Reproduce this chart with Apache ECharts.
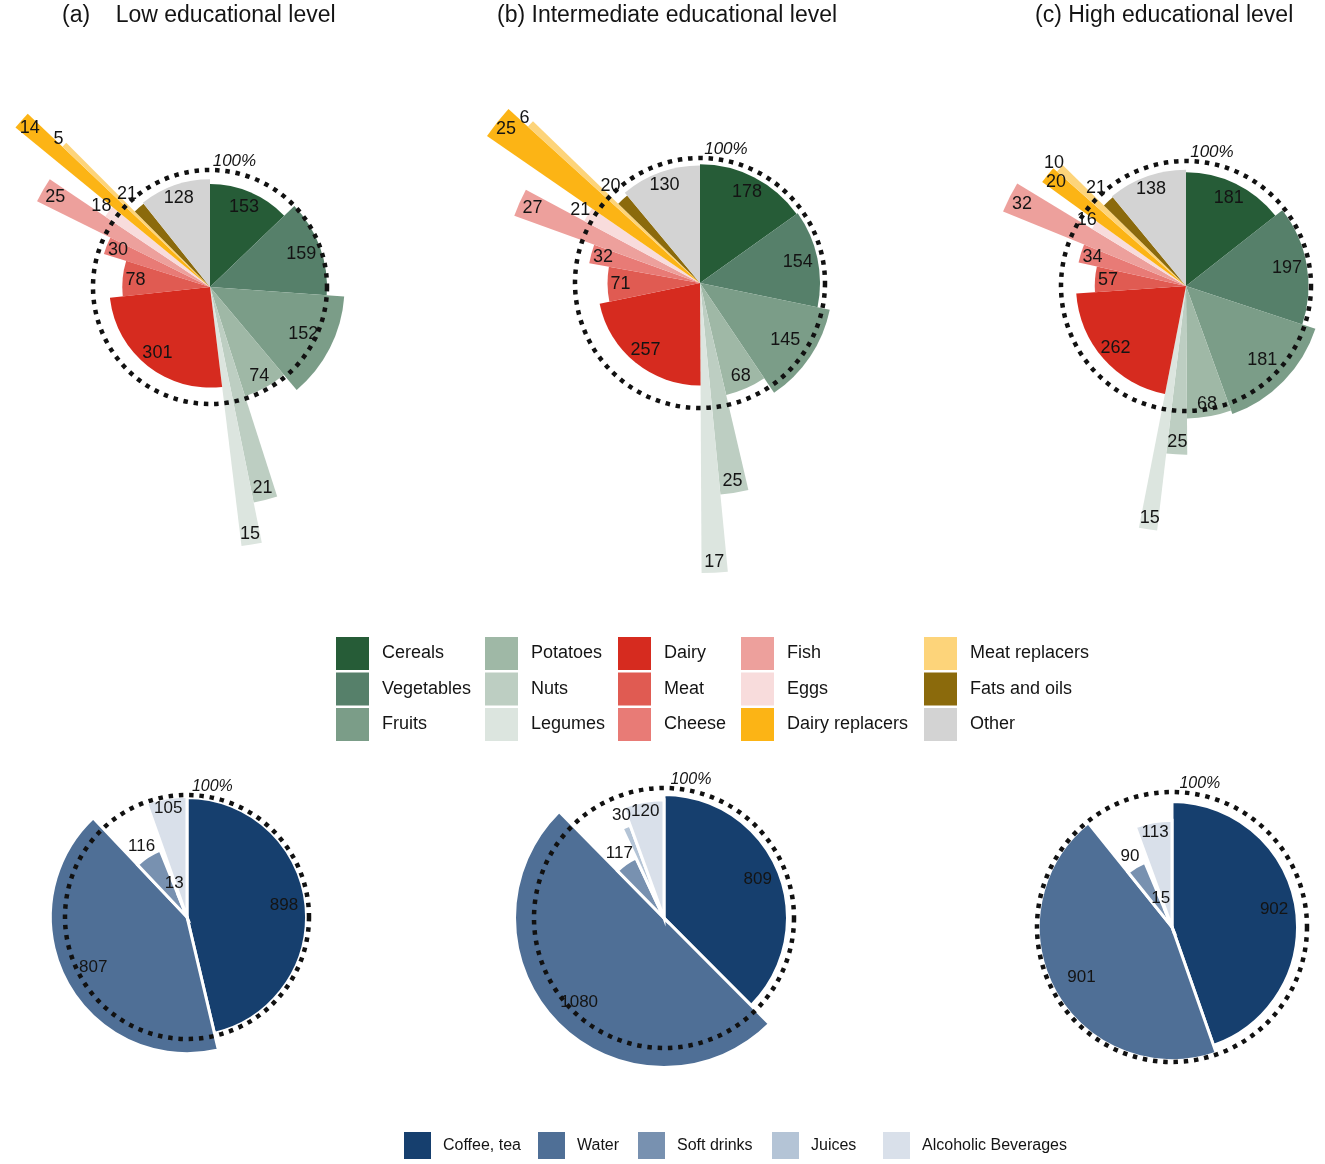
<!DOCTYPE html>
<html>
<head>
<meta charset="utf-8">
<script src="https://cdn.jsdelivr.net/npm/echarts@6/dist/echarts.min.js"></script>
<style>
  html, body { margin: 0; padding: 0; background: #ffffff; }
  #chart { width: 1325px; height: 1164px; }
</style>
</head>
<body>
<div id="chart"></div>
<script>
// ---------------- DATA ----------------
const panelTitles = ['(a)    Low educational level', '(b) Intermediate educational level', '(c) High educational level'];

const foodCategories = ['Cereals', 'Vegetables', 'Fruits', 'Potatoes', 'Nuts', 'Legumes', 'Dairy', 'Meat', 'Cheese',
  'Fish', 'Eggs', 'Dairy replacers', 'Meat replacers', 'Fats and oils', 'Other'];

// intake (g/day) -> slice angle
const foodLow  = [153, 159, 152, 74, 21, 15, 301, 78, 30, 25, 18, 14, 5, 21, 128];
const foodMid  = [178, 154, 145, 68, 25, 17, 257, 71, 32, 27, 21, 25, 6, 20, 130];
const foodHigh = [181, 197, 181, 68, 25, 15, 262, 57, 34, 32, 16, 20, 10, 21, 138];

// slice radius, % of the 100% reference circle
const foodLowPct  = [88, 100, 115, 98, 188, 223, 86, 75, 95, 165, 108, 215, 174, 91, 92];
const foodMidPct  = [95, 96, 106, 92, 170, 232, 82, 74, 90, 158, 105, 207, 186, 91, 94];
const foodHighPct = [91, 98, 109, 106, 135, 197, 88, 73, 88, 158, 88, 142, 138, 92, 93];

const drinkCategories = ['Coffee, tea', 'Water', 'Soft drinks', 'Juices', 'Alcoholic Beverages'];
const drinkLow  = [898, 807, 116, 13, 105];
const drinkMid  = [809, 1080, 117, 30, 120];
const drinkHigh = [902, 901, 90, 15, 113];

const drinkLowPct  = [98, 112, 59, 20, 99];
const drinkMidPct  = [95, 115, 51, 76, 91];
const drinkHighPct = [93, 99, 52, 14, 79];

const referenceLabel = '100%';
const referenceValue = 100;

// ---------------- STYLE / LAYOUT ----------------
const FONT = '"Liberation Sans", Arial, Helvetica, sans-serif';
const TEXT = '#141414';
const foodColors = ['#265c37', '#56806a', '#7b9d88', '#9fb8a6', '#bdcec2', '#dce5df', '#d62b1f', '#e05b52',
  '#e87b76', '#eda09c', '#f8dcdc', '#fcb415', '#fdd47a', '#8b6a0c', '#d3d3d3'];
const drinkColors = ['#163f6e', '#4f6f96', '#7891b0', '#b4c4d6', '#d9e0ea'];

// radial label offset from slice tip (px)
const foodLabelShift = [-16, -20, -30, -13, -12, -11, -16, -13, -12, -14, 9, -11, 8, 18, -13];
const drinkLabelShift = [-22, -30, 12, 12, -10];

const RMAX = 300;          // radius axis max (%)
const REF_ANGLE_DEG = 11;  // where "100%" text sits

const panels = [
  { cats: foodCategories, values: foodLow,  pct: foodLowPct,  colors: foodColors, shift: foodLabelShift, center: [210, 287], r100: 117, border: 0, fs: 18, refFs: 17 },
  { cats: foodCategories, values: foodMid,  pct: foodMidPct,  colors: foodColors, shift: foodLabelShift, center: [700, 283], r100: 125, border: 0, fs: 18, refFs: 17 },
  { cats: foodCategories, values: foodHigh, pct: foodHighPct, colors: foodColors, shift: foodLabelShift, center: [1186, 286], r100: 125, border: 0, fs: 18, refFs: 17 },
  { cats: drinkCategories, values: drinkLow,  pct: drinkLowPct,  colors: drinkColors, shift: drinkLabelShift, center: [187, 917], r100: 122, border: 3, fs: 17, refFs: 16 },
  { cats: drinkCategories, values: drinkMid,  pct: drinkMidPct,  colors: drinkColors, shift: drinkLabelShift, center: [664, 918], r100: 130, border: 3, fs: 17, refFs: 16 },
  { cats: drinkCategories, values: drinkHigh, pct: drinkHighPct, colors: drinkColors, shift: drinkLabelShift, center: [1172, 927], r100: 135, border: 3, fs: 17, refFs: 16 }
];

function geom(params, api, r, a0, a1) {
  const cs = params.coordSys;
  const cx = cs.cx, cy = cs.cy;
  const p0 = api.coord([r, a0]);
  const p1 = api.coord([r, a1]);
  const rad = Math.hypot(p0[0] - cx, p0[1] - cy);
  const s = Math.atan2(p0[1] - cy, p0[0] - cx);
  let e = Math.atan2(p1[1] - cy, p1[0] - cx);
  while (e <= s) e += Math.PI * 2;
  return { cx, cy, rad, s, e };
}

function sliceRenderer(p) {
  return function (params, api) {
    const g = geom(params, api, api.value(0), api.value(1), api.value(2));
    return {
      type: 'sector',
      shape: { cx: g.cx, cy: g.cy, r0: 0, r: g.rad, startAngle: g.s, endAngle: g.e, clockwise: true },
      style: { fill: api.visual('color'), stroke: p.border ? '#ffffff' : null, lineWidth: p.border }
    };
  };
}

function labelRenderer(p) {
  return function (params, api) {
    const g = geom(params, api, api.value(0), api.value(1), api.value(2));
    const k = api.value(4);
    const m = (g.s + g.e) / 2;
    const lr = g.rad + p.shift[k];
    return {
      type: 'text',
      x: g.cx + lr * Math.cos(m),
      y: g.cy + lr * Math.sin(m),
      style: { text: String(api.value(3)), fill: TEXT, fontSize: p.fs, fontFamily: FONT, align: 'center', verticalAlign: 'middle' }
    };
  };
}

function refRenderer(p) {
  return function (params, api) {
    const cs = params.coordSys;
    const pt = api.coord([api.value(0), api.value(1)]);
    const R = Math.hypot(pt[0] - cs.cx, pt[1] - cs.cy);
    const ang = Math.atan2(pt[1] - cs.cy, pt[0] - cs.cx);
    const lr = R + 11;
    return {
      type: 'group',
      children: [
        { type: 'circle', shape: { cx: cs.cx, cy: cs.cy, r: R },
          style: { fill: null, stroke: '#111111', lineWidth: 4.5, lineDash: [4.5, 5.8], lineCap: 'butt' } },
        { type: 'text', x: cs.cx + lr * Math.cos(ang), y: cs.cy + lr * Math.sin(ang),
          style: { text: referenceLabel, fill: TEXT, fontSize: p.refFs, fontStyle: 'italic', fontFamily: FONT, align: 'center', verticalAlign: 'middle' } }
      ]
    };
  };
}

const polar = [], angleAxis = [], radiusAxis = [], series = [];
panels.forEach(function (p, i) {
  const total = p.values.reduce(function (s, v) { return s + v; }, 0);
  polar.push({ center: p.center, radius: p.r100 * RMAX / 100 });
  angleAxis.push({ polarIndex: i, type: 'value', min: 0, max: total, startAngle: 90, clockwise: true, show: false });
  radiusAxis.push({ polarIndex: i, type: 'value', min: 0, max: RMAX, show: false });
  let cum = 0;
  const items = p.values.map(function (v, k) {
    const it = [p.pct[k], cum, cum + v, v, k];
    cum += v;
    return it;
  });
  items.forEach(function (it, k) {
    series.push({
      type: 'custom', name: p.cats[k], coordinateSystem: 'polar', polarIndex: i, z: 2, silent: true,
      itemStyle: { color: p.colors[k] }, data: [it], renderItem: sliceRenderer(p)
    });
  });
  series.push({
    type: 'custom', name: 'ref' + i, coordinateSystem: 'polar', polarIndex: i, z: 3, silent: true,
    data: [[referenceValue, total * REF_ANGLE_DEG / 360]], renderItem: refRenderer(p)
  });
  series.push({
    type: 'custom', name: 'labels' + i, coordinateSystem: 'polar', polarIndex: i, z: 4, silent: true,
    data: items, renderItem: labelRenderer(p)
  });
});

// titles
const titleLeft = [62, 497, 1035];
const title = panelTitles.map(function (t, i) {
  return { text: t, left: titleLeft[i], top: 4, padding: 0,
    textStyle: { fontFamily: FONT, fontSize: 23, fontWeight: 'normal', color: TEXT } };
});

// legends
const legend = [];
const foodColLeft = [336, 485, 618, 741, 924];
foodColLeft.forEach(function (x, c) {
  legend.push({
    data: foodCategories.slice(c * 3, c * 3 + 3), orient: 'vertical', left: x, top: 637, padding: 0,
    itemWidth: 33, itemHeight: 33, itemGap: 2.5, icon: 'rect', selectedMode: false,
    textStyle: { fontFamily: FONT, fontSize: 18, color: TEXT, padding: [0, 0, 0, 8] }
  });
});
const drinkLeft = [404, 538, 638, 772, 883];
drinkLeft.forEach(function (x, c) {
  legend.push({
    data: [drinkCategories[c]], orient: 'horizontal', left: x, top: 1132, padding: 0,
    itemWidth: 27, itemHeight: 27, icon: 'rect', selectedMode: false,
    textStyle: { fontFamily: FONT, fontSize: 16, color: TEXT, padding: [0, 0, 0, 7] }
  });
});

const chart = echarts.init(document.getElementById('chart'), null, { renderer: 'canvas' });
chart.setOption({
  backgroundColor: '#ffffff',
  animation: false,
  title: title,
  legend: legend,
  polar: polar,
  angleAxis: angleAxis,
  radiusAxis: radiusAxis,
  series: series
});
</script>
</body>
</html>
